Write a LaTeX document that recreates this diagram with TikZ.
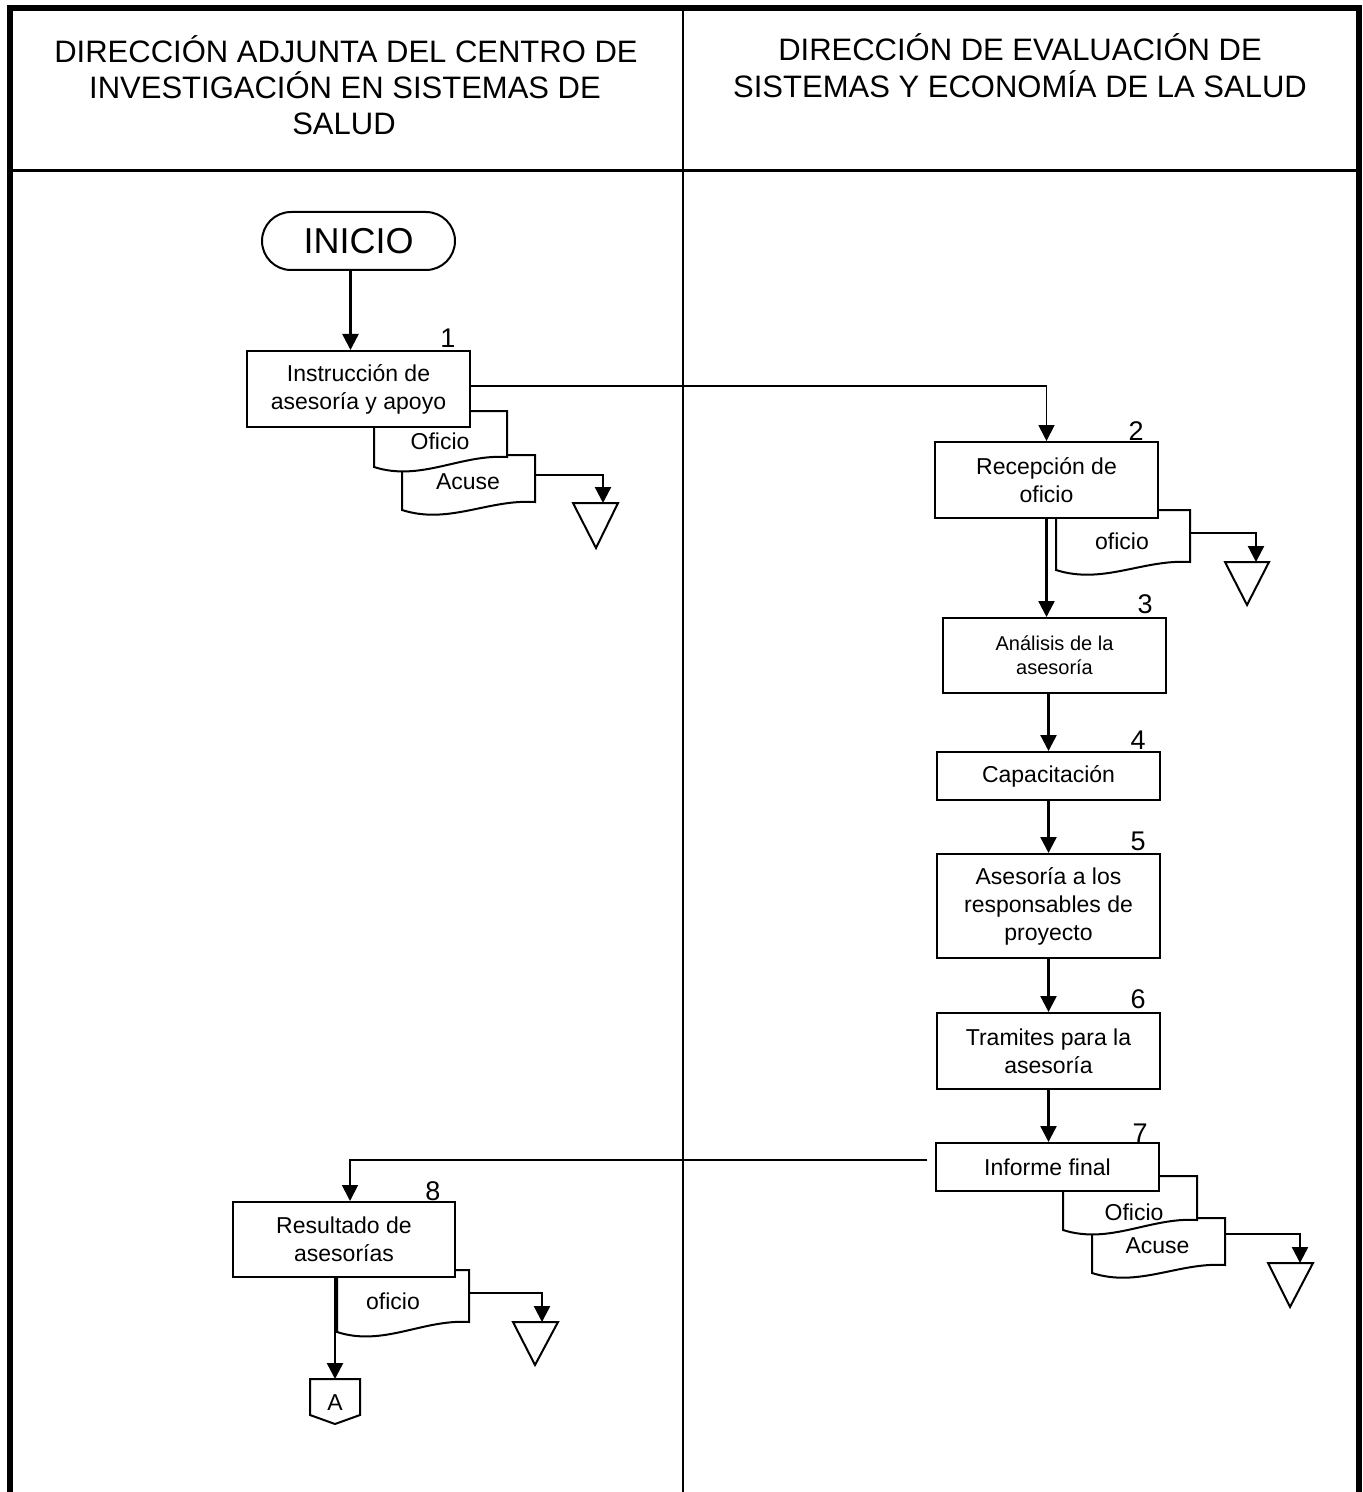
\documentclass[tikz,border=0pt]{standalone}
\usepackage{fontspec}
\setmainfont{Liberation Sans}
\usetikzlibrary{arrows.meta}
\newcommand{\fsz}[2]{\fontsize{#1}{#2}\selectfont}
\newcommand{\docshape}[9]{%
  \pgfmathsetmacro{\dwA}{#4-0.35*(#4-#2)}%
  \pgfmathsetmacro{\dwB}{#2+0.35*(#4-#2)}%
  \pgfmathsetmacro{\dyA}{#6-3}%
  \pgfmathsetmacro{\dyB}{#5+15}%
  \draw[docst] (#2,#3) -- (#4,#3) -- (#4,#6) .. controls (\dwA,\dyA) and (\dwB,\dyB) .. (#2,#5) -- cycle;
  \node[doctext] (#1) at (#8,#9) {#7};
}
\begin{document}
\begin{tikzpicture}[x=0.5pt,y=-0.5pt,
  box/.style={draw, line width=1pt, fill=white, inner sep=0pt, align=center, font=\fsz{11.5pt}{14pt}},
  num/.style={anchor=base, inner sep=0pt, font=\fsz{13.5pt}{15pt}},
  hdr/.style={anchor=base, inner sep=0pt, font=\fsz{15.5pt}{18pt}},
  doctext/.style={inner sep=0pt, font=\fsz{11.5pt}{14pt}},
  docst/.style={draw, line width=1pt, fill=white},
  arr/.style={line width=1.2pt, -{Triangle[length=8pt,width=8pt]}},
  thinarr/.style={line width=0.9pt, -{Triangle[length=8pt,width=8pt]}},
  store/.style={draw, line width=1pt, fill=white},
]
\useasboundingbox (0,0) rectangle (1363,1492);

% frame
\draw[line width=3pt] (10,1492) -- (10,8) -- (1358.5,8) -- (1358.5,1492);
\draw[line width=1.4pt] (10,170.5) -- (1358.5,170.5);
\draw[line width=1.25pt] (683,8) -- (683,1492);

% headers
\node[hdr] (hL1) at (346,63) {DIRECCIÓN ADJUNTA DEL CENTRO DE};
\node[hdr] (hL2) at (345,99) {INVESTIGACIÓN EN SISTEMAS DE};
\node[hdr] (hL3) at (344,135) {SALUD};
\node[hdr] (hR1) at (1020,61) {DIRECCIÓN DE EVALUACIÓN DE};
\node[hdr] (hR2) at (1020,98) {SISTEMAS Y ECONOMÍA DE LA SALUD};

% documents (drawn first, boxes cover their tops)
\docshape{d1b}{402}{455}{535}{510}{502}{Acuse}{468}{481.5}
\docshape{d1a}{374}{411}{507}{467}{457}{Oficio}{440}{441}
\docshape{d2}{1056}{510}{1190}{570}{562}{oficio}{1122}{541}
\docshape{d7b}{1092}{1218}{1225}{1273}{1265}{Acuse}{1157.5}{1246}
\docshape{d7a}{1063}{1176}{1197}{1230}{1220}{Oficio}{1134}{1212}
\docshape{d8}{337}{1270}{469}{1332}{1322}{oficio}{393}{1301}

\coordinate (d1b-r) at (535,475);
\coordinate (d2-r) at (1190,533);
\coordinate (d7b-r) at (1225,1234);
\coordinate (d8-r) at (469,1293);

% start terminal
\node[draw, line width=1pt, rounded corners=14.5pt, minimum width=96.5pt, minimum height=29pt, inner sep=0pt, font=\fsz{18pt}{20pt}] (inicio) at (358.5,241) {INICIO};

% process boxes
\node[box, minimum width=111.5pt, minimum height=38pt] (box1) at (358.5,389) {Instrucción de\\asesoría y apoyo};
\node[box, minimum width=111.5pt, minimum height=38pt] (box2) at (1046.5,480) {Recepción de\\oficio};
\node[box, minimum width=111.5pt, minimum height=37.5pt, font=\fsz{10pt}{12pt}] (box3) at (1054.5,655.5) {Análisis de la\\asesoría};
\node[box, minimum width=111.5pt, minimum height=24pt] (box4) at (1048.5,776) {Capacitación};
\node[box, minimum width=111.5pt, minimum height=52pt] (box5) at (1048.5,906) {Asesoría a los\\responsables de\\proyecto};
\node[box, minimum width=111.5pt, minimum height=38pt] (box6) at (1048.5,1051) {Tramites para la\\asesoría};
\node[box, minimum width=111.5pt, minimum height=24pt] (box7) at (1047.5,1167) {Informe final};
\node[box, minimum width=111pt, minimum height=37.5pt] (box8) at (344,1239.5) {Resultado de\\asesorías};

% step numbers
\node[num] (n1) at (448,348) {1};
\node[num] (n2) at (1136,440) {2};
\node[num] (n3) at (1145,613) {3};
\node[num] (n4) at (1138,749) {4};
\node[num] (n5) at (1138,850) {5};
\node[num] (n6) at (1138,1008) {6};
\node[num] (n7) at (1140,1142) {7};
\node[num] (n8) at (433,1200) {8};

% archive triangles
\draw[store] (573,503) -- (618,503) -- (596,548) -- cycle;
\draw[store] (1225,562) -- (1269,562) -- (1247,605) -- cycle;
\draw[store] (1268,1263) -- (1313,1263) -- (1290,1307) -- cycle;
\draw[store] (513,1322) -- (558,1322) -- (535,1365) -- cycle;
\coordinate (t1) at (603,503);
\coordinate (t2) at (1256,562);
\coordinate (t3) at (1300,1263);
\coordinate (t4) at (542,1322);

% off-page connector
\draw[line width=1pt, fill=white] (310,1379) -- (360,1379) -- (360,1415) -- (335,1424) -- (310,1415) -- cycle;
\node[inner sep=0pt, font=\fsz{11.5pt}{12pt}] (conA) at (335,1402.5) {A};
\coordinate (conA-top) at (335,1379);

% connectors
\draw[arr] ([xshift=-4pt]inicio.south) -- ([xshift=-4pt]box1.north);
\draw[thinarr] ([yshift=1.5pt]box1.east) -| (box2.north);
\draw[arr] (box2.south) -- (box2.south |- box3.north);
\draw[arr] (box4.north |- box3.south) -- (box4.north);
\draw[arr] (box4.south) -- (box5.north);
\draw[arr] (box5.south) -- (box6.north);
\draw[arr] (box6.south) -- (box6.south |- box7.north);
\draw[thinarr] ([shift={(-4pt,3.5pt)}]box7.west) -| ([xshift=3pt]box8.north);
\draw[arr] (box8.south -| conA-top) -- (conA-top);

\draw[arr] (d1b-r) -| (t1);
\draw[arr] (d2-r) -| (t2);
\draw[arr] (d7b-r) -| (t3);
\draw[arr] (d8-r) -| (t4);
\end{tikzpicture}
\end{document}
